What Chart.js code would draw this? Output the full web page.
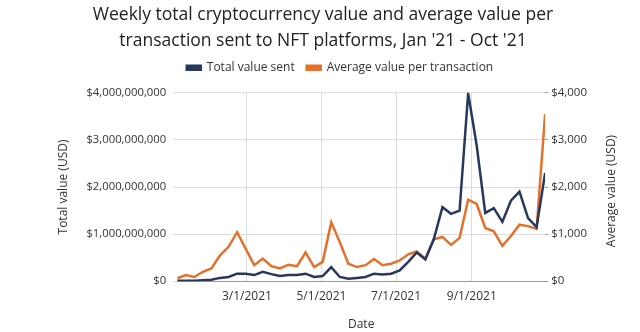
<!DOCTYPE html>
<html>
<head>
<meta charset="utf-8">
<script src="https://cdn.jsdelivr.net/npm/chart.js@4"></script>
<style>
  html, body { margin: 0; padding: 0; background: #fff; }
  #wrap { width: 640px; height: 332px; }
</style>
</head>
<body>
<div id="wrap"><canvas id="myChart" width="640" height="332"></canvas></div>
<script>
const weekDates = [
  '1/3/2021', '1/10/2021', '1/17/2021', '1/24/2021', '1/31/2021',
  '2/7/2021', '2/14/2021', '2/21/2021', '2/28/2021',
  '3/7/2021', '3/14/2021', '3/21/2021', '3/28/2021',
  '4/4/2021', '4/11/2021', '4/18/2021', '4/25/2021',
  '5/2/2021', '5/9/2021', '5/16/2021', '5/23/2021', '5/30/2021',
  '6/6/2021', '6/13/2021', '6/20/2021', '6/27/2021',
  '7/4/2021', '7/11/2021', '7/18/2021', '7/25/2021',
  '8/1/2021', '8/8/2021', '8/15/2021', '8/22/2021', '8/29/2021',
  '9/5/2021', '9/12/2021', '9/19/2021', '9/26/2021',
  '10/3/2021', '10/10/2021', '10/17/2021', '10/24/2021', '10/31/2021'
];

// total value sent, USD
const totalSent = [
  0.01e9, 0.01e9, 0.01e9, 0.02e9, 0.03e9,
  0.07e9, 0.09e9, 0.16e9, 0.16e9,
  0.13e9, 0.20e9, 0.15e9, 0.11e9,
  0.13e9, 0.13e9, 0.16e9, 0.09e9,
  0.11e9, 0.30e9, 0.09e9, 0.05e9, 0.07e9,
  0.09e9, 0.16e9, 0.14e9, 0.16e9,
  0.23e9, 0.41e9, 0.61e9, 0.46e9,
  0.90e9, 1.57e9, 1.43e9, 1.50e9, 3.99e9,
  2.88e9, 1.45e9, 1.55e9, 1.26e9,
  1.71e9, 1.90e9, 1.34e9, 1.15e9, 2.30e9
];

// average value per transaction, USD
const avgPerTx = [
  60, 130, 90, 200, 270,
  550, 730, 1040, 690,
  340, 480, 320, 270,
  350, 320, 610, 300,
  410, 1250, 830, 370, 300,
  340, 470, 340, 370,
  440, 570, 630, 480,
  890, 940, 770, 920, 1730,
  1640, 1130, 1060, 750,
  960, 1200, 1170, 1110, 3550
];

const tickDates = ['3/1/2021', '5/1/2021', '7/1/2021', '9/1/2021'];
const leftTicks = ['$0', '$1,000,000,000', '$2,000,000,000', '$3,000,000,000', '$4,000,000,000'];
const rightTicks = ['$0', '$1,000', '$2,000', '$3,000', '$4,000'];

function dayNum(s) {
  const [m, d, y] = s.split('/').map(Number);
  return Math.round(Date.UTC(y, m - 1, d) / 86400000);
}

const xs = weekDates.map(dayNum);
const tickDays = tickDates.map(dayNum);

const navy = '#27375f';
const orange = '#e5702a';
const font = "'Open Sans', sans-serif";
const textColor = '#333';

// a bit more room under the legend, and nudge it right
const legendGap = {
  id: 'legendGap',
  beforeInit(chart) {
    const fit = chart.legend.fit;
    chart.legend.fit = function () {
      fit.bind(this)();
      this.height += 9;
    };
  },
  afterLayout(chart) {
    chart.legend.left += 17;
    chart.legend.right += 17;
  }
};

// right axis title reads bottom-to-top like the left one
const rightTitle = {
  id: 'rightTitle',
  afterDraw(chart) {
    const { ctx, chartArea } = chart;
    ctx.save();
    ctx.translate(612, (chartArea.top + chartArea.bottom) / 2 + 4);
    ctx.rotate(-Math.PI / 2);
    ctx.fillStyle = textColor;
    ctx.font = '12px ' + font;
    ctx.textAlign = 'center';
    ctx.textBaseline = 'middle';
    ctx.fillText('Average value (USD)', 0, 0);
    ctx.restore();
  }
};

new Chart(document.getElementById('myChart'), {
  type: 'line',
  data: {
    datasets: [{
      label: 'Total value sent',
      data: totalSent.map((v, i) => ({ x: xs[i], y: v })),
      borderColor: navy,
      backgroundColor: navy,
      borderWidth: 2.5,
      pointRadius: 0,
      yAxisID: 'y'
    }, {
      label: 'Average value per transaction',
      data: avgPerTx.map((v, i) => ({ x: xs[i], y: v })),
      borderColor: orange,
      backgroundColor: orange,
      borderWidth: 2.5,
      pointRadius: 0,
      yAxisID: 'y1'
    }]
  },
  plugins: [legendGap, rightTitle],
  options: {
    responsive: false,
    animation: false,
    layout: { padding: { left: 56, right: 50, top: 2, bottom: 0 } },
    plugins: {
      title: {
        display: true,
        text: ['Weekly total cryptocurrency value and average value per',
               'transaction sent to NFT platforms, Jan \'21 - Oct \'21'],
        color: '#222',
        font: { family: font, size: 17.5, weight: 'normal', lineHeight: 1.48 },
        padding: { top: 0, bottom: -4 }
      },
      legend: {
        labels: {
          color: textColor,
          font: { family: font, size: 12 },
          boxWidth: 14,
          boxHeight: 4,
          padding: 12
        }
      },
      tooltip: { enabled: false }
    },
    scales: {
      x: {
        type: 'linear',
        min: xs[0],
        max: xs[xs.length - 1],
        afterBuildTicks: scale => { scale.ticks = tickDays.map(v => ({ value: v })); },
        ticks: {
          color: textColor,
          font: { family: font, size: 12 },
          maxRotation: 0,
          autoSkip: false,
          padding: 8,
          callback: v => tickDates[tickDays.indexOf(v)]
        },
        grid: { color: '#dcdcdc', drawTicks: false },
        border: { color: '#999' },
        title: { display: true, text: 'Date', color: textColor, font: { family: font, size: 12 }, padding: { top: 6, bottom: 0 } }
      },
      y: {
        position: 'left',
        min: 0,
        max: 4e9,
        ticks: {
          stepSize: 1e9,
          color: textColor,
          font: { family: font, size: 11.3 },
          padding: 7,
          callback: (v) => leftTicks[Math.round(v / 1e9)]
        },
        grid: { color: '#dcdcdc', tickLength: 4 },
        border: { display: false },
        title: { display: true, text: 'Total value (USD)', color: textColor, font: { family: font, size: 12 }, padding: { top: 0, bottom: 9 } }
      },
      y1: {
        position: 'right',
        min: 0,
        max: 4000,
        ticks: {
          stepSize: 1000,
          color: textColor,
          font: { family: font, size: 11.5 },
          padding: 3,
          callback: (v) => rightTicks[Math.round(v / 1000)]
        },
        grid: { drawOnChartArea: false, color: '#999', tickLength: 3 },
        border: { display: false }
      }
    }
  }
});
</script>
</body>
</html>
